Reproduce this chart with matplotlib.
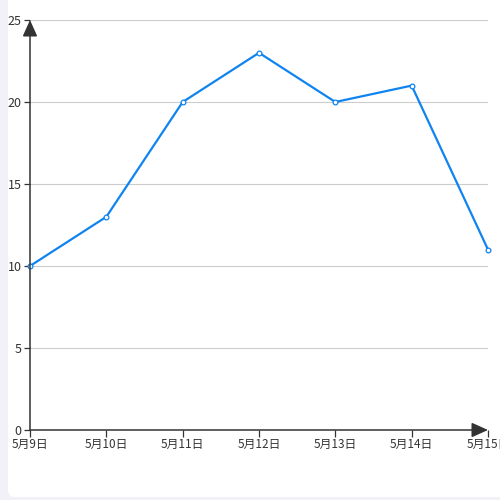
import matplotlib
matplotlib.use('Agg')
import matplotlib.pyplot as plt
from matplotlib.patches import FancyBboxPatch

plt.rcParams['font.family'] = ['Noto Sans CJK SC', 'DejaVu Sans']

# data
days = ["5月9日", "5月10日", "5月11日", "5月12日", "5月13日", "5月14日", "5月15日"]
values = [10, 13, 20, 23, 20, 21, 11]
y_ticks = [0, 5, 10, 15, 20, 25]

LINE = "#0f84f0"
AXIS = "#333333"

fig = plt.figure(figsize=(5, 5), dpi=100)
fig.patch.set_facecolor("#f1f1f7")
card = FancyBboxPatch((8 / 500, 3 / 500), 1.2, 1.2, transform=fig.transFigure,
                      boxstyle="round,pad=0,rounding_size=0.014",
                      facecolor="white", edgecolor="none", zorder=-5)
fig.patches.append(card)

ax = fig.add_axes([30 / 500, 70 / 500, 458 / 500, 410 / 500])
ax.set_zorder(2)
ax.set_facecolor("none")

x = list(range(len(days)))
ax.plot(x, values, color=LINE, linewidth=1.6, marker='o', markersize=3.4,
        markerfacecolor='white', markeredgecolor=LINE, markeredgewidth=0.9,
        clip_on=False, zorder=3)

ax.set_xlim(0, len(days) - 1)
ax.set_ylim(0, 25)
ax.set_xticks(x)
ax.set_xticklabels(days)
ax.set_yticks(y_ticks)

for s in ax.spines.values():
    s.set_visible(False)

for t in y_ticks[1:]:
    ax.axhline(t, color="#cccccc", linewidth=0.8, zorder=1)

ax.tick_params(axis='both', colors=AXIS, labelsize=8.5, width=0.9, length=4, pad=2)
ax.tick_params(axis='y', labelsize=9)
ax.tick_params(axis='x', length=5, pad=1)

# axis lines with arrows
arrow = dict(arrowstyle='-|>,head_length=1.0,head_width=0.45', color=AXIS,
             linewidth=1.1, shrinkA=0, shrinkB=0, mutation_scale=10)
ax.annotate('', xy=(0, 1.0), xytext=(0, 0), xycoords='axes fraction',
            textcoords='axes fraction', arrowprops=arrow, annotation_clip=False)
ax.annotate('', xy=(1.0, 0), xytext=(0, 0), xycoords='axes fraction',
            textcoords='axes fraction', arrowprops=arrow, annotation_clip=False)

plt.savefig("out.png", dpi=100, facecolor=fig.get_facecolor())
